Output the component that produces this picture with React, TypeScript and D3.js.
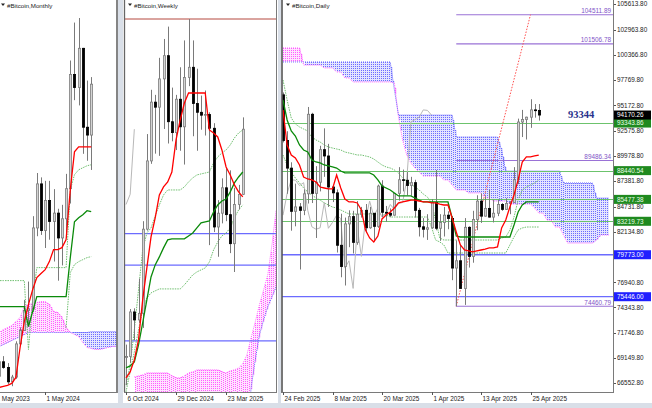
import React from "react";
import * as d3 from "d3";

// ================= MONTHLY (index 0 = May 2023) =================
const mOpen = [29250, 27200, 30500, 29200, 25900, 27000, 34600, 37700, 42300, 42600, 61200, 71300, 60600, 67500, 62700, 64600, 58900, 63300, 70200, 96400, 93400, 102400, 84300, 82500];
const mHigh = [29800, 31400, 31800, 30200, 27500, 35200, 38400, 44700, 48900, 63900, 73800, 72800, 72000, 72000, 70100, 65600, 66500, 73600, 99600, 108300, 109350, 102500, 95000, 95800];
const mLow = [25900, 24800, 28900, 25400, 24900, 26600, 34100, 37600, 38600, 41900, 59300, 59600, 56600, 58500, 53500, 49100, 52600, 58900, 66800, 90500, 89300, 78200, 76600, 74500];
const mClose = [27200, 30500, 29200, 25900, 27000, 34600, 37700, 42300, 42600, 61200, 71300, 60600, 67500, 62700, 64600, 58900, 63300, 70200, 96400, 93400, 102400, 84300, 82500, 94170];
const mTenkan = [24620, 24620, 24850, 25080, 25540, 26910, 33780, 39730, 43630, 47060, 49810, 50730, 51640, 53480, 56220, 56220, 56680, 58510, 69960, 78660, 79810, 79810, 79810, 79810];
const mKijun = [43170, 43170, 43170, 43170, 43170, 43170, 43170, 43170, 38590, 42030, 45460, 45460, 45460, 45460, 45460, 45460, 45460, 45460, 54390, 62630, 63550, 64240, 65150, 64920];
const mDotP = [49120, 49120, 49120, 49120, 49120, 49120, 49120, 49120, 33320, 44770, 52100, 52100, 52100, 52100, 52100, 52100, 52100, 52100, 69960, 73400, 74540, 75000, 75460, 75690];
const mDotQStart = 17;
const mDotQ = [38360, 50960, 52790, 53470, 53930, 54390, 54620];
const mSpanA = [36760, 37220, 37900, 38360, 38820, 39730, 40650, 43170, 43630, 43860, 44090, 44310, 44310, 43630, 42020, 41800, 40650, 38360, 37220, 36760, 36300, 34930, 33780, 33550, 33320, 33320, 33550, 33780, 34010, 34010];
const mSpanB = [33780, 34010, 34470, 34930, 35380, 35840, 36300, 36760, 37220, 37220, 37220, 37220, 37220, 37220, 37220, 37220, 37220, 37220, 37220, 37220, 37220, 37220, 37220, 37440, 37440, 37440, 37440, 37440, 37440, 37440];
const mTickIdx = [0, 12];
const mTickLabels = ["1 May 2023", "1 May 2024"];

// ================= WEEKLY (index 0 = week of 6 Oct 2024) =================
const wOpen = [62800, 62850, 69000, 67900, 68800, 80400, 89800, 97900, 97200, 101100, 104300, 95200, 93700, 98300, 94500, 101300, 102700, 97700, 96500, 96100, 96200, 94300, 80700, 82600, 86100, 82400, 78400, 83800, 85200];
const wHigh = [64500, 69400, 69500, 73600, 81500, 93500, 99600, 98900, 104000, 106600, 108300, 99900, 98900, 102700, 106400, 109350, 106400, 102500, 98800, 99500, 96500, 95000, 84400, 87400, 88800, 88500, 86100, 86500, 95800];
const wLow = [58900, 62000, 65100, 67500, 66800, 80200, 89400, 90800, 90500, 94200, 92200, 92500, 91300, 91200, 89300, 100100, 93200, 91200, 94100, 93300, 78200, 80000, 76600, 81200, 81500, 77100, 74500, 83100, 85100];
const wClose = [62850, 69000, 67900, 68800, 80400, 89800, 97900, 97200, 101100, 104300, 95200, 93700, 98300, 94500, 101300, 102700, 97700, 96500, 96100, 96200, 94300, 80700, 82600, 86100, 82400, 78400, 83800, 85200, 94170];
const wTenkan = [59920, 60740, 62390, 65150, 70660, 75060, 79330, 81950, 85110, 86220, 86910, 88280, 92690, 95440, 97780, 99160, 99160, 99160, 99160, 99160, 94070, 93650, 93100, 91310, 88970, 87870, 86490, 85530, 84840];
const wKijun = [61290, 61570, 62120, 64460, 67490, 70660, 73820, 75480, 76580, 77820, 78920, 79060, 79060, 79060, 79060, 79470, 79880, 80570, 81260, 81400, 81530, 82770, 83740, 84290, 84560, 85530, 86770, 87590, 88280];
const wDotU = [58950, 61710, 66530, 72030, 77540, 79880, 80570, 82220, 83740, 85110, 85800, 85800, 85800, 85800, 86220, 86910, 87460, 87870, 88010, 88140, 88280, 89520, 90350, 90900, 91310, 92000, 92960, 93650, 94070];
const wDotL = [57990, 60740, 63500, 66530, 69280, 70930, 71620, 71900, 72170, 72170, 72170, 72170, 72170, 72170, 72720, 73410, 74100, 74510, 74790, 75060, 75890, 77540, 78640, 79470, 79880, 80570, 81950, 83050, 83740];
const wCloudStart = 2;
const wSpanA = [60050, 60190, 60330, 60600, 60600, 60600, 60600, 60600, 60600, 60190, 59920, 59920, 60190, 60600, 60740, 61020, 61020, 61020, 61020, 61020, 61020, 60740, 60600, 60880, 61020, 61290, 61840, 63080, 65430, 67630, 69970, 72030, 74100, 78230, 83050];
const wSpanB = [50000, 50000, 50000, 50000, 50000, 50000, 50000, 50000, 50000, 50000, 50000, 50000, 50000, 50000, 50000, 50000, 50000, 50000, 50000, 50000, 50000, 50000, 50000, 50000, 50000, 50000, 50000, 50000, 58540, 62390, 65840, 67900, 69690, 71070, 72450];
const wLevelsBlue = [79773, 75446, 65000];
const wLevelATH = 109350;
const wTickIdx = [0, 12, 24];
const wTickLabels = ["6 Oct 2024", "29 Dec 2024", "23 Mar 2025"];

// ================= DAILY (index 0 = 24 Feb 2025) =================
const dOpen = [96250, 91550, 88700, 84250, 84700, 84350, 86050, 94250, 86100, 87250, 90600, 89950, 86750, 86150, 80750, 78550, 82950, 83700, 81050, 83950, 84350, 82550, 84050, 82700, 86850, 84150, 84050, 83850, 86100, 87500, 87450, 86900, 87200, 84350, 82650, 82400, 82550, 85150, 82500, 83100, 83850, 83500, 78400, 79150, 76300, 82600, 79600, 83400, 85300, 83750, 84550, 83650, 84050, 84950, 84450, 85050, 85150, 87500, 93450, 93700, 93950, 94700, 94650];
const dHigh = [96500, 92500, 89300, 87100, 85100, 86500, 95000, 94400, 88900, 91000, 92800, 91200, 86900, 86500, 84000, 83600, 84350, 84300, 85300, 84700, 85000, 84700, 84050, 87000, 87450, 84800, 84550, 86100, 88800, 88550, 88300, 87800, 87500, 84600, 83550, 83950, 85500, 88500, 83950, 84700, 84250, 83750, 81250, 80850, 83550, 82700, 84300, 85900, 86100, 85800, 86450, 85450, 85450, 85100, 85600, 85300, 88800, 93800, 94700, 94000, 95800, 95300, 95300];
const dLow = [91350, 86050, 82250, 82700, 78250, 83850, 85050, 85100, 81500, 86300, 87800, 84700, 85200, 80000, 77450, 76600, 80550, 79900, 80800, 83600, 82050, 82450, 81150, 82550, 83650, 83150, 83650, 83800, 85350, 86300, 85900, 85850, 83600, 81650, 81550, 81300, 82450, 82300, 81200, 81650, 82400, 77150, 74460.79, 76250, 74600, 78450, 78950, 82300, 83050, 83700, 83600, 83100, 83750, 84300, 84400, 83950, 85100, 87050, 91900, 91650, 92850, 93900, 93600];
const dClose = [91550, 88700, 84250, 84700, 84350, 86050, 94250, 86100, 87250, 90600, 89950, 86750, 86150, 80750, 78550, 82950, 83700, 81050, 83950, 84350, 82550, 84050, 82700, 86850, 84150, 84050, 83850, 86100, 87500, 87450, 86900, 87200, 84350, 82650, 82400, 82550, 85150, 82500, 83100, 83850, 83500, 78400, 79150, 76300, 82600, 79600, 83400, 85300, 83750, 84550, 83650, 84050, 84950, 84450, 85050, 85150, 87500, 93450, 93700, 93950, 94700, 94650, 94170.26];
const dTenkan = [94690, 91080, 90050, 89740, 89020, 87780, 87580, 87480, 87270, 86750, 86650, 86550, 86550, 87990, 86650, 85520, 85210, 85210, 85110, 84380, 82320, 81500, 81090, 81700, 83460, 83870, 84180, 84590, 85110, 85210, 85310, 85410, 85410, 85310, 85210, 85210, 85110, 85110, 85000, 84900, 84900, 83560, 82120, 80780, 80260, 80160, 80060, 80160, 80260, 80360, 80470, 80470, 80570, 82530, 83350, 84690, 85930, 87480, 89330, 89850, 89850, 89950, 90050];
const dKijun = [95720, 93660, 92530, 92010, 91080, 90570, 90360, 89540, 89330, 89230, 89020, 88920, 88820, 88710, 88400, 88200, 88200, 88200, 88200, 88200, 88200, 88200, 87990, 87480, 86860, 86650, 86450, 86140, 85830, 85830, 85830, 85830, 85620, 85410, 85210, 85210, 85210, 85210, 85210, 85210, 85210, 83560, 81700, 81600, 81600, 81600, 81600, 81600, 81600, 81600, 81600, 81600, 81600, 81600, 81600, 81600, 82840, 84180, 84900, 85210, 85210, 85210, 85210];
const dDotU = [97780, 95720, 93870, 93250, 92940, 92730, 92530, 91910, 91600, 91390, 91080, 90880, 90770, 90670, 90570, 90360, 90260, 90160, 90050, 90050, 89950, 89850, 89640, 89330, 89020, 88820, 88710, 88510, 88200, 87680, 87370, 87060, 86750, 86450, 86030, 85720, 85110, 83350, 81500, 81290, 81290, 81290, 81290, 81290, 81290, 81290, 81290, 81290, 81290, 81290, 81290, 81290, 81290, 81500, 81600, 82320, 83660, 85410, 86450, 86750, 86960, 87170, 87480];
const dDotL = [90050, 89020, 88300, 87680, 87170, 86650, 86240, 85930, 85620, 85410, 85110, 84900, 84690, 84590, 84380, 84180, 83970, 83970, 83970, 83970, 83970, 83970, 83970, 83970, 83970, 83870, 83660, 83660, 83660, 83660, 83660, 83660, 83660, 83660, 83660, 83660, 82630, 81290, 81090, 80780, 79950, 79950, 79950, 79950, 79950, 79950, 79950, 79950, 79950, 79950, 79950, 79950, 79950, 79950, 79950, 80780, 81600, 82320, 82530, 82630, 82630, 82630, 82630];
const dSpanA = [101080, 101080, 101080, 101080, 101080, 99330, 99330, 99330, 99330, 99330, 99020, 99020, 99020, 98610, 98610, 97990, 97990, 97580, 97580, 97580, 97580, 97580, 97580, 97580, 97580, 97580, 97580, 97470, 93970, 91600, 90050, 89230, 88710, 88300, 87890, 87890, 87890, 87890, 87890, 87480, 87480, 86960, 86450, 86450, 86450, 86140, 86140, 86140, 86140, 85620, 85620, 85310, 85310, 85310, 85310, 85000, 85000, 85000, 85000, 85000, 85000, 84590, 84070, 84070, 83350, 83350, 82630, 82630, 81810, 80980, 80980, 80980, 80980, 80980, 80980, 80980, 81290, 81810, 81810, 81810];
const dSpanB = [99640, 99640, 99640, 99640, 99640, 99640, 99640, 99640, 99640, 99640, 99640, 99640, 99640, 99640, 99640, 99640, 99640, 99640, 99640, 99640, 99640, 99640, 99640, 99640, 99640, 99640, 99640, 96750, 94170, 94170, 94170, 94170, 94170, 94170, 94170, 94170, 94170, 94170, 94170, 94170, 94170, 94170, 91910, 91910, 91910, 91910, 91910, 91910, 91910, 91910, 91910, 91910, 91910, 90570, 88400, 88400, 88400, 88400, 88400, 88400, 88400, 88400, 88400, 88400, 88400, 88400, 88400, 88400, 87170, 87170, 87170, 87170, 87170, 87170, 87170, 87170, 85620, 85620, 85620, 85620];
const dTickIdx = [0, 12, 24, 36, 48, 60];
const dTickLabels = ["24 Feb 2025", "8 Mar 2025", "20 Mar 2025", "1 Apr 2025", "13 Apr 2025", "25 Apr 2025"];
const dAxisLabels = [105613.8, 102963.8, 100366.8, 97769.8, 95172.8, 92575.8, 89978.8, 87381.8, 84731.8, 82134.8, 76940.8, 74343.8, 71746.8, 69149.8, 66552.8];
const dGreenLevels = [93343.86, 88440.54, 85477.38, 83219.73];
const dBlueLevels = [79773.0, 75446.0];
const dPurpleLevels = [104511.89, 101506.78, 89486.34, 74460.79];
const dPurpleStartIdx = 42;
const dTrendIdx = [42, 60];
const dTrendVal = [74460.79, 104511.89];
const dLastPrice = 94170.26;
const dBigLabel = "93344";
const chikouShift = 26;

// ================= geometry =================
const W = 652;
const H = 408;
const PLOT_BOTTOM = 392;
const FONT = "'Liberation Sans', Arial, sans-serif";

const mX = d3.scaleLinear().domain([0, 23]).range([-5, 91.2]);
const mY = d3.scaleLinear().domain([73800, 109350]).range([173, 18]);
const wX = d3.scaleLinear().domain([0, 28]).range([126, 242.76]);
const wY = d3.scaleLinear().domain([74500, 109350]).range([272, 19]);
const dX = d3.scaleLinear().domain([0, 62]).range([283, 538.75]);
const dY = d3.scaleLinear().domain([66552.8, 105613.8]).range([383, 4]);

type Sc = d3.ScaleLinear<number, number>;

function Candles({ o, h, l, c, x, y }: { o: number[]; h: number[]; l: number[]; c: number[]; x: Sc; y: Sc }) {
  return (
    <g>
      {o.map((ov, i) => {
        const cx = Math.round(x(i));
        const bull = c[i] >= ov;
        const yo = y(ov);
        const yc = y(c[i]);
        const top = Math.min(yo, yc);
        const bot = Math.max(yo, yc);
        return (
          <g key={i}>
            <line x1={cx + 0.5} x2={cx + 0.5} y1={y(h[i])} y2={y(l[i])} stroke="#7a7a7a" strokeWidth={1} />
            <rect
              x={cx - 0.6}
              y={top}
              width={2.2}
              height={Math.max(bot - top, 0.8)}
              fill={bull ? "#d4d4d4" : "#000"}
              stroke={bull ? "#7d7d7d" : "#000"}
              strokeWidth={0.8}
            />
          </g>
        );
      })}
    </g>
  );
}

function Series({ vals, x, y, start = 0, stroke, width = 1, dash }: { vals: number[]; x: Sc; y: Sc; start?: number; stroke: string; width?: number; dash?: string }) {
  const gen = d3
    .line<number>()
    .x((_, j) => x(start + j))
    .y((v) => y(v));
  return <path d={gen(vals) || ""} fill="none" stroke={stroke} strokeWidth={width} strokeDasharray={dash} />;
}

const MAG = "#ff5cff";
const BLU = "#6c6cff";
const MAG_T = "#ffe2ff";
const BLU_T = "#e4e4ff";

// Ichimoku cloud drawn the MT4 way: vertical dotted hatch columns between span A and span B
function Cloud({ a, b, x, y, start = 0 }: { a: number[]; b: number[]; x: Sc; y: Sc; start?: number }) {
  const x0 = x(start);
  const x1 = x(start + a.length - 1);
  const cols = d3.range(Math.ceil(x0), Math.floor(x1) + 1, 2);
  const la = d3
    .line<number>()
    .x((_, j) => x(start + j))
    .y((v) => y(v));
  return (
    <g>
      {cols.map((px) => {
        const t = x.invert(px) - start;
        const j = Math.max(0, Math.min(Math.floor(t), a.length - 2));
        const f = t - j;
        const av = a[j] + (a[j + 1] - a[j]) * f;
        const bv = b[j] + (b[j + 1] - b[j]) * f;
        const ya = y(av);
        const yb = y(bv);
        const top = Math.round(Math.min(ya, yb));
        const bot = Math.max(ya, yb);
        if (bot - top < 1) return null;
        const up = ya < yb;
        return (
          <g key={px}>
            <line x1={px + 1} x2={px + 1} y1={top} y2={bot} stroke={up ? MAG_T : BLU_T} strokeWidth={2} />
            <line x1={px + 0.5} x2={px + 0.5} y1={top} y2={bot} stroke={up ? MAG : BLU} strokeWidth={1} strokeDasharray="1,1" />
          </g>
        );
      })}
      <path d={la(a) || ""} fill="none" stroke={MAG} strokeWidth={1} strokeDasharray="1,1" />
      <path d={la(b) || ""} fill="none" stroke={BLU} strokeWidth={1} strokeDasharray="1,1" />
    </g>
  );
}

function Title({ x, text }: { x: number; text: string }) {
  return (
    <g>
      <path d={`M${x},3.5 L${x + 4},3.5 L${x + 2},6 Z`} fill="#222" />
      <text x={x + 6} y={7.6} fontSize={6.2} fill="#222" fontFamily={FONT}>
        {text}
      </text>
    </g>
  );
}

function TimeAxis({ idx, labels, x, x0, x1 }: { idx: number[]; labels: string[]; x: Sc; x0: number; x1: number }) {
  return (
    <g>
      <line x1={x0} x2={x1} y1={PLOT_BOTTOM + 0.5} y2={PLOT_BOTTOM + 0.5} stroke="#7a7a7a" />
      {idx.map((i, k) => {
        const tx = Math.round(x(i)) + 0.5;
        return (
          <g key={k}>
            <line x1={tx} x2={tx} y1={PLOT_BOTTOM} y2={PLOT_BOTTOM + 3} stroke="#555" />
            <text x={tx + 1} y={401} fontSize={6.4} fill="#222" fontFamily={FONT}>
              {labels[k]}
            </text>
          </g>
        );
      })}
    </g>
  );
}

export default function App() {
  const dChikou = dClose.slice(chikouShift);
  const wChikou = wClose.slice(chikouShift);
  const trend = dTrendIdx.map((i, k) => [dX(i), dY(dTrendVal[k])]);
  const fmt = (v: number) => v.toFixed(2);
  return (
    <div style={{ position: "fixed", left: 0, top: 0, width: W, height: H }}>
      <svg width={W} height={H} style={{ display: "block" }} fontFamily={FONT}>
        <defs>
          <clipPath id="clipM">
            <rect x={0} y={0} width={116.5} height={PLOT_BOTTOM} />
          </clipPath>
          <clipPath id="clipW">
            <rect x={125} y={0} width={151.5} height={PLOT_BOTTOM} />
          </clipPath>
          <clipPath id="clipD">
            <rect x={282} y={0} width={331.5} height={PLOT_BOTTOM} />
          </clipPath>
        </defs>

        {/* frame */}
        <rect x={0} y={0} width={W} height={H} fill="#d9dfe8" />
        <rect x={0} y={0} width={118} height={403} fill="#fff" />
        <rect x={123} y={0} width={155} height={403} fill="#fff" />
        <rect x={281} y={0} width={371} height={403} fill="#fff" />

        {/* ---------------- MONTHLY ---------------- */}
        <g clipPath="url(#clipM)">
          <Cloud a={mSpanA} b={mSpanB} x={mX} y={mY} />
          <Series vals={mDotP} x={mX} y={mY} stroke="#6fbf6f" dash="1.5,1" />
          <Series vals={mDotQ} x={mX} y={mY} start={mDotQStart} stroke="#6fbf6f" dash="1.5,1" />
          <Candles o={mOpen} h={mHigh} l={mLow} c={mClose} x={mX} y={mY} />
          <Series vals={mKijun} x={mX} y={mY} stroke="#0a8a0a" width={1.3} />
          <Series vals={mTenkan} x={mX} y={mY} stroke="#ff0000" width={1.3} />
        </g>
        <line x1={117} x2={117} y1={0} y2={PLOT_BOTTOM + 1} stroke="#666" strokeWidth={1.6} />
        <TimeAxis idx={mTickIdx} labels={mTickLabels} x={mX} x0={0} x1={117} />
        <Title x={1} text="#Bitcoin,Monthly" />

        {/* ---------------- WEEKLY ---------------- */}
        <g clipPath="url(#clipW)">
          <Cloud a={wSpanA} b={wSpanB} x={wX} y={wY} start={wCloudStart} />
          {wLevelsBlue.map((v, k) => (
            <line key={k} x1={125} x2={277} y1={wY(v)} y2={wY(v)} stroke="#6b6bff" strokeWidth={1.2} />
          ))}
          <line x1={125} x2={277} y1={wY(wLevelATH)} y2={wY(wLevelATH)} stroke="#b5493f" strokeWidth={1} />
          <Series vals={wDotU} x={wX} y={wY} stroke="#6fbf6f" dash="1.5,1" />
          <Series vals={wDotL} x={wX} y={wY} stroke="#6fbf6f" dash="1.5,1" />
          <Series vals={wChikou} x={wX} y={wY} stroke="#b8b8b8" />
          <Candles o={wOpen} h={wHigh} l={wLow} c={wClose} x={wX} y={wY} />
          <Series vals={wKijun} x={wX} y={wY} stroke="#0a8a0a" width={1.3} />
          <Series vals={wTenkan} x={wX} y={wY} stroke="#ff0000" width={1.3} />
        </g>
        <line x1={124.5} x2={124.5} y1={0} y2={PLOT_BOTTOM} stroke="#666" strokeWidth={1.3} />
        <line x1={276.5} x2={276.5} y1={0} y2={PLOT_BOTTOM} stroke="#7a7a7a" />
        <TimeAxis idx={wTickIdx} labels={wTickLabels} x={wX} x0={124} x1={277} />
        <Title x={128} text="#Bitcoin,Weekly" />

        {/* ---------------- DAILY ---------------- */}
        <g clipPath="url(#clipD)">
          <Cloud a={dSpanA} b={dSpanB} x={dX} y={dY} />
          {dGreenLevels.map((v, k) => (
            <line key={k} x1={282} x2={614} y1={Math.round(dY(v)) + 0.5} y2={Math.round(dY(v)) + 0.5} stroke="#6cc36c" strokeWidth={1} />
          ))}
          {dBlueLevels.map((v, k) => (
            <line key={k} x1={282} x2={614} y1={dY(v)} y2={dY(v)} stroke="#6b6bff" strokeWidth={1.3} />
          ))}
          {dPurpleLevels.map((v, k) => (
            <line key={k} x1={dX(dPurpleStartIdx)} x2={614} y1={dY(v)} y2={dY(v)} stroke="#9a72d6" strokeWidth={1.1} />
          ))}
          <line x1={dX(dPurpleStartIdx)} x2={dX(dPurpleStartIdx)} y1={dY(dPurpleLevels[3]) - 9} y2={dY(dPurpleLevels[3])} stroke="#9a72d6" strokeWidth={1} />
          <line x1={trend[0][0]} y1={trend[0][1]} x2={trend[1][0]} y2={trend[1][1]} stroke="#ff5050" strokeWidth={1} strokeDasharray="1.5,1.5" />
          <Series vals={dDotU} x={dX} y={dY} stroke="#6fbf6f" dash="1.5,1" />
          <Series vals={dDotL} x={dX} y={dY} stroke="#6fbf6f" dash="1.5,1" />
          <Series vals={dChikou} x={dX} y={dY} stroke="#b8b8b8" />
          <Candles o={dOpen} h={dHigh} l={dLow} c={dClose} x={dX} y={dY} />
          <Series vals={dKijun} x={dX} y={dY} stroke="#0a8a0a" width={1.3} />
          <Series vals={dTenkan} x={dX} y={dY} stroke="#ff0000" width={1.3} />
          {dPurpleLevels.map((v, k) => (
            <text key={k} x={611} y={dY(v) - 1.5} fontSize={6.4} fill="#7f55c8" textAnchor="end">
              {fmt(v)}
            </text>
          ))}
          <text x={568} y={dY(dGreenLevels[0]) - 5} fontSize={10.5} fontWeight="bold" fill="#28328c" fontFamily="'Liberation Serif', 'Times New Roman', serif">
            {dBigLabel}
          </text>
        </g>
        <line x1={282} x2={282} y1={0} y2={PLOT_BOTTOM + 1} stroke="#555" strokeWidth={1.6} />
        <line x1={613.5} x2={613.5} y1={0} y2={PLOT_BOTTOM} stroke="#7a7a7a" />
        <TimeAxis idx={dTickIdx} labels={dTickLabels} x={dX} x0={281} x1={614} />
        <Title x={286} text="#Bitcoin,Daily" />

        {/* price axis */}
        {dAxisLabels.map((v, k) => (
          <g key={k}>
            <line x1={614} x2={616} y1={Math.round(dY(v)) + 0.5} y2={Math.round(dY(v)) + 0.5} stroke="#555" />
            <text x={617} y={dY(v) + 2.3} fontSize={6.4} fill="#222">
              {fmt(v)}
            </text>
          </g>
        ))}
        {dGreenLevels.map((v, k) => (
          <g key={k}>
            <rect x={614} y={dY(v) - 4.5} width={37} height={9} fill="#1f8a1f" />
            <text x={617} y={dY(v) + 2.3} fontSize={6.4} fill="#e8ffe8">
              {fmt(v)}
            </text>
          </g>
        ))}
        {dBlueLevels.map((v, k) => (
          <g key={k}>
            <rect x={614} y={dY(v) - 4.5} width={37} height={9} fill="#2020ff" />
            <text x={617} y={dY(v) + 2.3} fontSize={6.4} fill="#fff">
              {fmt(v)}
            </text>
          </g>
        ))}
        <rect x={614} y={dY(dLastPrice) - 4.5} width={37} height={9} fill="#000" />
        <text x={617} y={dY(dLastPrice) + 2.3} fontSize={6.4} fill="#fff">
          {fmt(dLastPrice)}
        </text>
      </svg>
    </div>
  );
}
